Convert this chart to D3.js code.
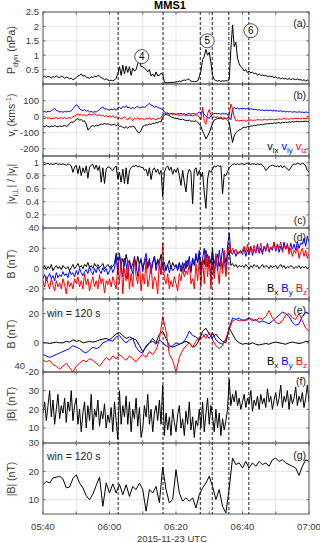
<!DOCTYPE html>
<html>
<head>
<meta charset="utf-8">
<script src="https://cdn.jsdelivr.net/npm/d3@7"></script>
<style>
  body { margin: 0; background: #fff; }
  text { font-family: Arial, "Liberation Sans", sans-serif; white-space: pre; }
</style>
</head>
<body>
<svg width="320" height="543"></svg>
<script>
// start of the interval, 2015-11-23 05:40 UTC; samples are given every 30 s or 60 s
var t0 = Date.UTC(2015, 10, 23, 5, 40);

// (a) dynamic pressure, nPa, 30 s cadence
var pdyn = [
  0.24,0.28,0.22,0.27,0.25,0.21,0.26,0.23,0.28,0.24,0.22,0.27,0.25,0.2,0.24,0.22,0.18,0.2,0.15,0.18,
  0.22,0.28,0.3,0.35,0.27,0.3,0.24,0.22,0.2,0.25,0.22,0.28,0.24,0.3,0.27,0.22,0.2,0.15,0.18,0.14,
  0.12,0.13,0.11,0.14,0.2,0.35,0.6,0.3,0.65,0.35,0.62,0.4,0.6,0.3,0.55,0.45,0.5,0.7,0.85,0.6,
  0.6,0.55,0.5,0.42,0.5,0.28,0.35,0.25,0.42,0.28,0.3,0.38,0.35,0.06,0.05,0.04,0.05,0.06,0.05,0.06,
  0.07,0.08,0.1,0.09,0.12,0.14,0.12,0.18,0.15,0.1,0.09,0.08,0.09,0.1,0.25,0.45,0.85,0.95,1.2,1.0,
  1.1,0.75,0.3,0.15,0.12,0.1,0.12,0.09,0.11,0.1,0.12,0.1,0.15,1.2,2.05,1.3,1.45,0.9,0.7,0.6,
  0.55,0.45,0.5,0.4,0.45,0.38,0.42,0.35,0.38,0.3,0.35,0.3,0.32,0.28,0.3,0.26,0.28,0.25,0.27,0.22,
  0.25,0.2,0.22,0.18,0.21,0.17,0.2,0.16,0.19,0.15,0.18,0.17,0.15,0.18,0.14,0.16,0.12,0.15,0.1,0.14,0.1
];

// (b) ion velocity components, km/s, 30 s cadence
var vix = [
  -58,-62,-56,-60,-64,-58,-61,-55,-60,-63,-57,-61,-58,-54,-60,-56,-40,-32,-35,-28,
  -15,-12,-20,-18,-28,-25,-45,-82,-70,-60,-55,-60,-52,-56,-50,-45,-48,-42,-46,-44,
  -48,-52,-50,-46,-55,-50,-60,-58,-66,-70,-62,-72,-60,-65,-58,-62,-80,-95,-100,-85,
  -60,-55,-50,-52,-45,-48,-40,-42,-35,-38,-30,-32,0,10,15,12,8,0,-5,-8,
  -10,-12,-15,-18,-14,-20,-22,-25,-20,-28,-26,-30,-24,-35,-45,-60,-90,-110,-138,-120,
  -100,-70,-40,-20,-15,-10,-12,-8,-15,-12,-10,-20,-35,-100,-160,-120,-100,-90,-82,-78,
  -70,-65,-68,-60,-62,-56,-58,-52,-55,-50,-52,-48,-50,-45,-46,-42,-44,-40,-43,-38,
  -40,-38,-36,-40,-35,-37,-33,-36,-32,-34,-30,-33,-30,-28,-32,-29,-30,-28,-27,-30,-28
];
var viy = [
  30,34,28,35,32,38,45,52,40,36,30,33,28,35,30,36,32,38,50,62,
  75,68,50,42,38,45,35,40,30,34,28,32,30,38,45,55,62,48,50,45,
  42,48,45,50,40,55,60,50,65,58,70,55,62,50,58,52,60,66,55,60,
  62,58,66,75,85,72,70,60,65,58,55,50,45,30,22,25,18,20,22,18,
  15,20,18,22,16,20,14,18,22,15,20,18,15,22,30,25,35,15,5,-5,
  -10,5,15,20,22,18,20,16,22,18,20,15,-5,-18,45,60,50,55,48,52,
  50,54,48,52,46,50,48,44,46,42,45,40,43,38,42,40,38,42,36,40,
  36,38,34,38,32,36,30,34,30,33,28,32,30,28,32,28,30,26,30,28,26
];
var viz = [
  -8,-12,-5,-10,-6,-14,-8,-10,-4,-12,-8,-6,-10,-5,-12,-8,-4,-10,0,5,
  12,18,10,15,8,14,6,12,18,10,15,20,12,8,16,5,10,2,8,0,
  5,-2,8,-5,0,-10,-5,-15,-8,0,-12,-20,-5,-10,-25,-8,-15,-5,-18,-10,
  -12,-20,-8,-15,-5,-18,-10,-15,-20,-8,-12,-5,12,20,18,22,15,20,14,18,
  15,10,12,8,14,10,6,12,8,10,5,10,12,8,0,-20,60,-30,-45,20,
  45,10,-5,0,-5,2,-8,0,-10,-5,-12,-8,10,80,50,0,-25,-20,-28,-22,
  -25,-20,-28,-22,-26,-18,-24,-20,-22,-16,-20,-18,-22,-15,-18,-20,-14,-18,-16,-20,
  -15,-18,-12,-16,-14,-10,-15,-12,-16,-10,-14,-12,-8,-12,-10,-14,-8,-12,-10,-8,-12
];

// (c) |v_i perp| / |v_i|, 30 s cadence
var vratio = [
  0.98,0.97,0.98,0.99,0.97,0.98,0.97,0.98,0.99,0.97,0.98,0.97,0.98,0.97,0.96,0.98,0.97,0.95,0.85,0.93,
  0.96,0.83,0.95,0.8,0.92,0.84,0.95,0.76,0.93,0.96,0.97,0.9,0.96,0.88,0.95,0.7,0.92,0.68,0.9,0.93,
  0.93,0.9,0.88,0.92,0.95,0.75,0.85,0.7,0.9,0.68,0.92,0.67,0.88,0.92,0.95,0.94,0.96,0.93,0.95,0.92,
  0.93,0.88,0.9,0.8,0.92,0.74,0.88,0.92,0.85,0.9,0.82,0.88,0.48,0.85,0.92,0.95,0.88,0.93,0.82,0.9,
  0.85,0.92,0.8,0.65,0.88,0.7,0.55,0.82,0.9,0.85,0.37,0.88,0.92,0.8,0.88,0.78,0.85,0.55,0.3,0.75,
  0.88,0.85,0.9,0.95,0.93,0.96,0.94,0.95,0.52,0.82,0.8,0.86,0.92,0.95,0.97,0.98,0.97,0.98,0.97,0.98,
  0.98,0.97,0.98,0.99,0.98,0.97,0.98,0.98,0.97,0.98,0.97,0.98,0.96,0.93,0.88,0.9,0.94,0.95,0.96,0.95,
  0.94,0.95,0.93,0.96,0.92,0.95,0.93,0.9,0.88,0.92,0.96,0.98,0.97,0.99,0.98,0.97,0.99,0.98,0.95,0.88,0.85
];

// (d) magnetic field components, nT, 30 s cadence
var bx = [
  0,3,-1,2,0,4,-2,1,3,0,2,-1,3,1,0,2,-2,1,4,0,
  2,5,1,3,0,4,2,6,1,3,0,5,2,4,1,3,5,0,2,4,
  1,3,2,5,15,8,12,4,10,2,14,6,8,0,5,10,2,12,4,8,
  0,6,10,2,8,-2,6,12,3,9,5,14,2,6,-2,4,8,0,6,2,
  4,0,6,-3,2,5,0,8,4,-2,10,3,12,6,15,0,10,4,18,2,
  12,5,20,-5,8,14,2,10,0,15,6,12,18,3,5,2,4,1,3,2,
  3,1,4,2,0,3,1,4,2,3,0,2,4,1,3,2,0,3,1,2,
  3,0,2,4,1,3,0,2,1,3,2,0,2,1,3,0,2,1,2,0,1
];
var by = [
  -10,-6,-12,-8,-5,-10,-7,-12,-4,-9,-6,-8,-3,-7,-5,-9,-2,-6,-4,-8,
  -2,-6,0,-4,-7,-3,-1,-5,2,-3,-6,0,-4,2,-2,-5,1,-3,0,-6,
  -2,2,-4,0,12,-5,15,2,-8,10,5,-10,8,0,-5,12,3,-8,6,10,
  -3,8,15,0,10,-5,6,12,-2,8,2,-6,5,-3,0,4,-4,2,-2,0,
  3,-2,5,0,6,-3,8,2,12,-4,10,4,15,6,18,-5,10,20,2,14,
  8,-8,15,5,12,-2,18,6,20,10,-5,22,35,16,14,18,12,16,15,18,
  14,20,12,18,15,22,13,19,16,24,15,20,14,22,17,25,16,21,18,26,
  17,24,16,22,18,26,19,23,17,25,19,24,18,27,20,25,24,30,22,32,26
];
var bz = [
  -12,-18,-8,-15,-20,-10,-16,-22,-12,-18,-14,-20,-10,-16,-25,-12,-18,-14,-20,-10,
  -15,-8,-18,-12,-20,-5,-16,-10,-22,-14,-8,-18,-12,-20,-6,-15,-10,-24,-12,-16,
  -10,-18,-8,-14,-20,5,-15,10,-25,0,-12,8,-20,-5,-18,10,-8,-15,5,-22,
  -5,-15,8,-18,-10,5,-20,-8,-12,-25,10,-5,25,-10,-15,-5,-20,-12,-18,-8,
  -15,-22,-5,-12,0,-8,-2,-6,5,-15,-10,-20,5,-12,8,-18,10,-15,15,-8,
  12,-20,5,-10,15,0,-15,10,-5,18,-8,10,25,15,20,16,19,14,17,15,
  18,22,16,24,14,20,17,23,15,21,18,25,16,22,19,24,17,21,20,26,
  18,24,20,26,16,23,19,25,14,20,12,18,15,22,10,16,20,12,18,10,15
];

// (e) 120 s window averaged components, nT, 60 s cadence
var bxWin = [
  0,0,-0.5,0,0.5,0,0,1,0.5,2, 1,1.5,0,0.5,1,0.5,1,2,2.5,3,
  2,4,6,7,5,3,4,3,2,-2, -6,-3,0,3,0,6,8,3,-2,-3,
  -2,-1,0,1,0,-3,-2,2,8,10, 6,4,6,3,1,0,10,6,2,0,
  -1,-0.5,-1,0,-1,-1.5,-1,-0.5,-1,0, 0.5,0,-0.5,-1,0,0.5,0,-0.5,0,1,1
];
var byWin = [
  -8,-9,-10,-9,-8,-7,-6,-5,-4,-2, -3,-4,-6,-7,-5,-3,-4,-3,0,1,
  2,1,4,5,2,0,2,3,-3,-6, -7,-2,0,1,-1,2,0,-2,-3,-2,
  0,-1,0,3,8,5,4,2,4,6, 3,7,2,0,-1,2,10,17,16,17,
  15,16,17,15,16,14,15,14,13,15, 17,19,21,20,18,14,12,13,18,21,20
];
var bzWin = [
  -12,-13,-12,-15,-16,-18,-16,-14,-17,-20, -16,-14,-12,-13,-11,-12,-14,-16,-13,-10,
  -12,-9,-11,-8,-10,-12,-9,-11,-13,-10, -8,-10,-6,-8,-5,2,18,8,-8,-12,
  -20,-10,-5,-2,0,-3,1,4,6,3, 7,2,-2,-4,-2,3,9,15,16,15,
  16,15,17,16,15,17,16,18,22,17, 14,13,15,19,20,17,16,20,15,10,8
];

// (f) |B|, nT, 30 s cadence
var bmag = [
  18,24,14,22,30,16,25,12,20,28,15,22,18,26,13,24,19,30,14,22,
  26,12,20,8,18,24,10,22,14,28,9,20,16,25,11,19,15,23,10,17,
  13,21,8,24,14,4,30,12,22,16,27,12,24,8,20,15,26,11,21,5,
  10,22,16,28,12,20,8,18,22,14,25,12,33,6,18,9,16,6,20,13,
  8,17,22,10,15,6,19,12,24,9,16,5,14,11,20,10,24,8,18,26,
  12,22,16,8,20,10,18,6,15,9,14,20,36,22,28,24,30,22,26,20,
  24,28,21,26,23,30,19,25,22,27,20,28,23,26,21,31,24,27,20,25,
  29,22,26,33,21,27,24,30,20,28,23,26,32,22,27,24,29,21,26,33,24
];

// (g) 120 s window averaged |B|, nT, 60 s cadence
var bmagWin = [
  15.3,16.5,15.9,17.7,18,18.3,17.3,14.2,14.5,17.5, 18.8,15.9,14.2,11.5,10,12,15,18,7.7,15.9,
  12.4,15.6,12.4,15.5,11.8,15.3,11.2,14.7,13.6,15.9, 13.6,6,13.6,12.4,14.7,9,21.5,13.6,8.9,10.1,
  20.6,12.4,9.5,10.7,9.5,10.7,7.1,11.8,14.2,15.9, 18.3,14.7,10.1,13.6,7.7,5.4,14,24.7,22.4,23,
  21.2,23.5,21.2,23,21.8,23.5,22.4,23,21.8,24.1, 24.7,23.5,24.1,23,22.4,21.8,21.2,18.6,21.8,24.1,23.5
];

// event times (minutes after 05:40) and circled labels in panel (a)
var eventMinutes = [22.6, 36.1, 47.3, 50.9, 55.9, 61.9];
var labelNames = ['4', '5', '6'];
var labelMinutes = [29.7, 49.4, 62.5];
var labelValues = [0.95, 1.5, 1.85];

var svg = d3.select('svg'),
    width = +svg.attr('width'),
    height = +svg.attr('height');

var left = 43, right = 309, top0 = 12, bottom0 = 514;

function minutes(m) { return new Date(t0 + m * 60000); }

function series(values, step) {
  return values.map(function(v, i) {
    return { t: minutes(i * step), v: v };
  });
}

var x = d3.scaleUtc()
  .domain([minutes(0), minutes(80)])
  .range([left, right]);

var gridTimes = x.ticks(d3.utcMinute.every(10));

// writes a text with sub/superscripts into a text element
function richText(sel, parts, size) {
  var shift = 0;
  parts.forEach(function(p) {
    var dy = 0, fs = size;
    if (p[1] === 'sub') { dy = size * 0.3; fs = size * 0.72; }
    if (p[1] === 'sup') { dy = -size * 0.42; fs = size * 0.72; }
    sel.append('tspan')
      .attr('dy', dy - shift)
      .attr('font-size', fs)
      .attr('fill', p[2] || null)
      .text(p[0]);
    shift = dy;
  });
}

var BLUE = '#0000ff', RED = '#ff0000', BLACK = '#000000';

var panels = [
  { top: 12, bottom: 84, domain: [0, 2.5], ticks: [0.5, 1, 1.5, 2, 2.5],
    tag: '(a)', tagY: 26.5, labelY: 50,
    label: [['P'], ['dyn', 'sub'], [' (nPa)']],
    lines: [[pdyn, 0.5, BLACK]] },
  { top: 84, bottom: 156, domain: [-245, 205], ticks: [-200, -100, 0, 100],
    tag: '(b)', tagY: 98.5, labelY: 115,
    label: [['v'], ['i', 'sub'], [' (kms'], ['-1', 'sup'], [')']],
    lines: [[vix, 0.5, BLACK], [viy, 0.5, BLUE], [viz, 0.5, RED]],
    legend: [['v', '', BLACK], ['ix', 'sub', BLACK], [' v', '', BLUE], ['iy', 'sub', BLUE], [' v', '', RED], ['iz', 'sub', RED]],
    legendY: 150 },
  { top: 156, bottom: 228, domain: [0, 1.1], ticks: [0.2, 0.4, 0.6, 0.8, 1],
    tag: '(c)', tagY: 223.5, labelY: 184,
    label: [['|v'], ['i\u22a5', 'sub'], ['| / |v'], ['i', 'sub'], ['|']],
    lines: [[vratio, 0.5, BLACK]] },
  { top: 228, bottom: 299, domain: [-30, 40], ticks: [-20, 0, 20, 40],
    tag: '(d)', tagY: 241, labelY: 264,
    label: [['B (nT)']],
    lines: [[bx, 0.5, BLACK], [by, 0.5, BLUE], [bz, 0.5, RED]],
    legend: [['B', '', BLACK], ['x', 'sub', BLACK], [' B', '', BLUE], ['y', 'sub', BLUE], [' B', '', RED], ['z', 'sub', RED]],
    legendY: 291.5 },
  { top: 299, bottom: 372, domain: [-20, 30], ticks: [-20, 0, 20],
    tag: '(e)', tagY: 313.5, labelY: 334, win: 317,
    label: [['B (nT)']],
    lines: [[bxWin, 1, BLACK], [byWin, 1, BLUE], [bzWin, 1, RED]],
    legend: [['B', '', BLACK], ['x', 'sub', BLACK], [' B', '', BLUE], ['y', 'sub', BLUE], [' B', '', RED], ['z', 'sub', RED]],
    legendY: 364.5 },
  { top: 372, bottom: 443, domain: [2, 40], ticks: [10, 20, 30],
    tag: '(f)', tagY: 384.5, labelY: 404,
    label: [['|B| (nT)']],
    lines: [[bmag, 0.5, BLACK]] },
  { top: 443, bottom: 514, domain: [5, 30], ticks: [10, 20, 30],
    tag: '(g)', tagY: 458.5, labelY: 479, win: 460,
    label: [['|B| (nT)']],
    lines: [[bmagWin, 1, BLACK]] }
];

var defs = svg.append('defs');

panels.forEach(function(p, k) {
  var y = d3.scaleLinear().domain(p.domain).range([p.bottom, p.top]);
  var g = svg.append('g');

  defs.append('clipPath')
    .attr('id', 'clip' + k)
    .append('rect')
    .attr('x', left).attr('y', p.top)
    .attr('width', right - left).attr('height', p.bottom - p.top);

  // grid
  g.selectAll('.vgrid')
    .data(gridTimes)
    .enter().append('line')
    .attr('x1', function(d) { return x(d); })
    .attr('x2', function(d) { return x(d); })
    .attr('y1', p.top).attr('y2', p.bottom)
    .attr('stroke', '#dedede').attr('stroke-width', 0.8);

  g.selectAll('.hgrid')
    .data(p.ticks)
    .enter().append('line')
    .attr('x1', left).attr('x2', right)
    .attr('y1', function(d) { return y(d); })
    .attr('y2', function(d) { return y(d); })
    .attr('stroke', '#dedede').attr('stroke-width', 0.8);

  // data
  var line = d3.line()
    .x(function(d) { return x(d.t); })
    .y(function(d) { return y(d.v); });

  var plot = g.append('g').attr('clip-path', 'url(#clip' + k + ')');
  p.lines.forEach(function(l) {
    plot.append('path')
      .datum(series(l[0], l[1]))
      .attr('d', line)
      .attr('fill', 'none')
      .attr('stroke', l[2])
      .attr('stroke-width', 1)
      .attr('stroke-linejoin', 'round');
  });

  // ticks (inside) and frame
  g.selectAll('.ytick')
    .data(p.ticks)
    .enter().append('path')
    .attr('d', function(d) {
      return 'M' + left + ',' + y(d) + 'h2.5M' + right + ',' + y(d) + 'h-2.5';
    })
    .attr('stroke', '#444').attr('stroke-width', 0.8);

  g.selectAll('.xtick')
    .data(gridTimes)
    .enter().append('path')
    .attr('d', function(d) {
      return 'M' + x(d) + ',' + p.bottom + 'v-2.5M' + x(d) + ',' + p.top + 'v2.5';
    })
    .attr('stroke', '#444').attr('stroke-width', 0.8);

  g.append('rect')
    .attr('x', left).attr('y', p.top)
    .attr('width', right - left).attr('height', p.bottom - p.top)
    .attr('fill', 'none')
    .attr('stroke', '#5a5a5a')
    .attr('stroke-width', 1);

  g.selectAll('.ylab')
    .data(p.ticks)
    .enter().append('text')
    .attr('x', 39)
    .attr('y', function(d) { return y(d); })
    .attr('dy', '0.35em')
    .attr('text-anchor', 'end')
    .attr('font-size', 9.5)
    .attr('fill', '#3a3a3a')
    .text(function(d) { return String(d); });

  // axis title
  var t = g.append('text')
    .attr('transform', 'translate(15,' + p.labelY + ') rotate(-90)')
    .attr('text-anchor', 'middle')
    .attr('fill', '#3a3a3a');
  richText(t, p.label, 10.5);

  g.append('text')
    .attr('x', 306).attr('y', p.tagY)
    .attr('text-anchor', 'end')
    .attr('font-size', 10.5)
    .attr('fill', '#222')
    .text(p.tag);

  if (p.legend) {
    var lg = g.append('text')
      .attr('x', 307).attr('y', p.legendY)
      .attr('text-anchor', 'end');
    richText(lg, p.legend, 11);
  }

  if (p.win) {
    g.append('text')
      .attr('x', 47).attr('y', p.win)
      .attr('font-size', 10.5)
      .attr('fill', '#222')
      .text('win = 120 s');
  }
});

// odd top label of panel (f)
svg.append('text')
  .attr('x', 25).attr('y', 369)
  .attr('text-anchor', 'end')
  .attr('font-size', 9.5)
  .attr('fill', '#3a3a3a')
  .text('40');

// event lines across all panels
svg.selectAll('.event')
  .data(eventMinutes)
  .enter().append('line')
  .attr('x1', function(d) { return x(minutes(d)); })
  .attr('x2', function(d) { return x(minutes(d)); })
  .attr('y1', top0).attr('y2', bottom0)
  .attr('stroke', '#000')
  .attr('stroke-width', 0.9)
  .attr('stroke-dasharray', '3,2');

// circled numbers in panel (a)
var ya = d3.scaleLinear().domain(panels[0].domain).range([panels[0].bottom, panels[0].top]);
var marks = svg.selectAll('.mark')
  .data(labelNames)
  .enter().append('g')
  .attr('transform', function(d, i) {
    return 'translate(' + x(minutes(labelMinutes[i])) + ',' + ya(labelValues[i]) + ')';
  });
marks.append('circle')
  .attr('r', 7)
  .attr('fill', '#fff')
  .attr('stroke', '#222')
  .attr('stroke-width', 0.8);
marks.append('text')
  .attr('text-anchor', 'middle')
  .attr('dy', '0.36em')
  .attr('font-size', 10)
  .text(function(d) { return d; });

// title and time axis
svg.append('text')
  .attr('x', 170).attr('y', 9)
  .attr('text-anchor', 'middle')
  .attr('font-size', 11)
  .attr('font-weight', 'bold')
  .text('MMS1');

svg.selectAll('.xlab')
  .data(x.ticks(d3.utcMinute.every(20)))
  .enter().append('text')
  .attr('x', function(d) { return x(d); })
  .attr('y', 530)
  .attr('text-anchor', 'middle')
  .attr('font-size', 9.5)
  .attr('fill', '#3a3a3a')
  .text(d3.utcFormat('%H:%M'));

svg.append('text')
  .attr('x', 172).attr('y', 541.5)
  .attr('text-anchor', 'middle')
  .attr('font-size', 9.5)
  .attr('fill', '#3a3a3a')
  .text('2015-11-23 UTC');
</script>
</body>
</html>
